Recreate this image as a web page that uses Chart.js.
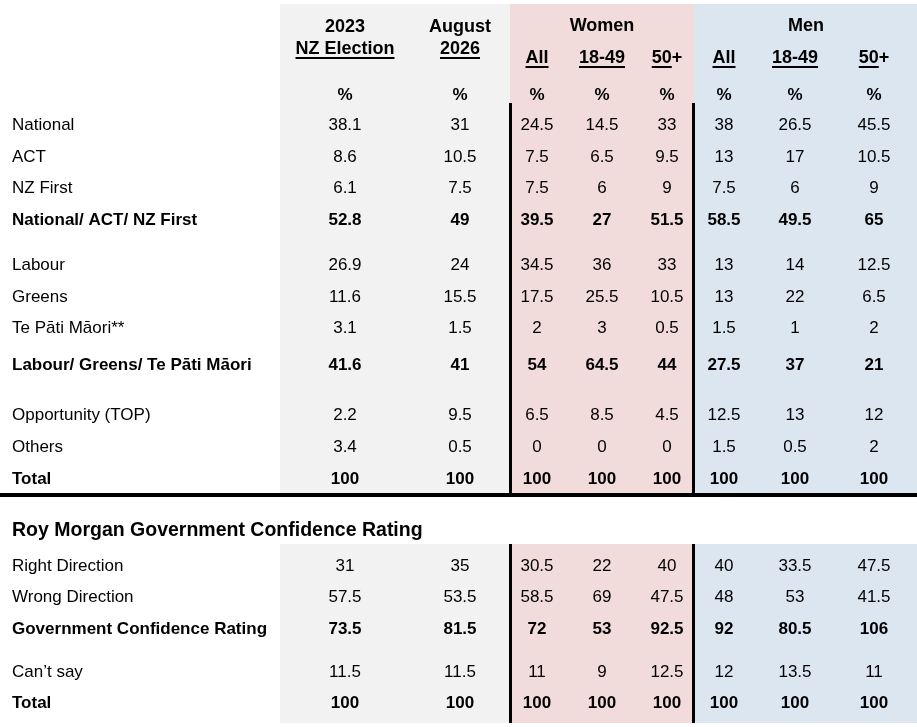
<!DOCTYPE html>
<html>
<head>
<meta charset="utf-8">
<script src="https://cdn.jsdelivr.net/npm/chart.js@4.4.1/dist/chart.umd.min.js"></script>
<style>
  html, body { margin: 0; padding: 0; background: #fff; }
  #wrap { width: 917px; height: 727px; }
</style>
</head>
<body>
<div id="wrap"><canvas id="table"></canvas></div>
<script>
// row labels
const partyLabels = ["National", "ACT", "NZ First", "National/ ACT/ NZ First", "Labour", "Greens",
  "Te Pāti Māori**", "Labour/ Greens/ Te Pāti Māori", "Opportunity (TOP)", "Others", "Total"];
const confidenceLabels = ["Right Direction", "Wrong Direction", "Government Confidence Rating", "Can’t say", "Total"];
const sectionTitle = "Roy Morgan Government Confidence Rating";

// column headings
const headTop = ["2023", "August"];
const headSub = ["NZ Election", "2026"];
const groupNames = ["Women", "Men"];
const groupCols = ["All", "18-49", "50+"];

// party vote, %
const election2023 = [38.1, 8.6, 6.1, 52.8, 26.9, 11.6, 3.1, 41.6, 2.2, 3.4, 100];
const august2026 = [31, 10.5, 7.5, 49, 24, 15.5, 1.5, 41, 9.5, 0.5, 100];
const womenAll = [24.5, 7.5, 7.5, 39.5, 34.5, 17.5, 2, 54, 6.5, 0, 100];
const women1849 = [14.5, 6.5, 6, 27, 36, 25.5, 3, 64.5, 8.5, 0, 100];
const women50 = [33, 9.5, 9, 51.5, 33, 10.5, 0.5, 44, 4.5, 0, 100];
const menAll = [38, 13, 7.5, 58.5, 13, 13, 1.5, 27.5, 12.5, 1.5, 100];
const men1849 = [26.5, 17, 6, 49.5, 14, 22, 1, 37, 13, 0.5, 100];
const men50 = [45.5, 10.5, 9, 65, 12.5, 6.5, 2, 21, 12, 2, 100];

// government confidence, %
const conf2023 = [31, 57.5, 73.5, 11.5, 100];
const confAugust = [35, 53.5, 81.5, 11.5, 100];
const confWomenAll = [30.5, 58.5, 72, 11, 100];
const confWomen1849 = [22, 69, 53, 9, 100];
const confWomen50 = [40, 47.5, 92.5, 12.5, 100];
const confMenAll = [40, 48, 92, 12, 100];
const confMen1849 = [33.5, 53, 80.5, 13.5, 100];
const confMen50 = [47.5, 41.5, 106, 11, 100];

const columns = [
  { party: election2023, conf: conf2023 },
  { party: august2026, conf: confAugust },
  { party: womenAll, conf: confWomenAll },
  { party: women1849, conf: confWomen1849 },
  { party: women50, conf: confWomen50 },
  { party: menAll, conf: confMenAll },
  { party: men1849, conf: confMen1849 },
  { party: men50, conf: confMen50 },
];

// layout (scale units = page pixels)
const colX = [345, 460, 537, 602, 667, 724, 795, 874];
const partyY = [124, 156, 187, 219, 264, 296, 327, 364, 414, 446, 478];
const confY = [565, 596, 628, 671, 702];
const partyBold = [3, 7, 10];
const confBold = [2, 4];
const labelX = 12;

const FONT = '"Liberation Sans", Arial, sans-serif';
const bands = [
  { from: 280, to: 510, color: "#f2f2f2" },
  { from: 510, to: 694, color: "#f2dcdb" },
  { from: 694, to: 917, color: "#dce6f1" },
];

function cells(values, ys, bold, x) {
  return values.map((v, i) => ({ x: x, y: ys[i], v: v, bold: bold.includes(i) }));
}

const datasets = columns.map((col, c) => ({
  label: "col" + c,
  data: cells(col.party, partyY, partyBold, colX[c]).concat(cells(col.conf, confY, confBold, colX[c])),
  pointRadius: 0,
  pointHoverRadius: 0,
  showLine: false,
}));

function text(ctx, str, x, y, size, bold, align, underline) {
  ctx.font = (bold ? "bold " : "") + size + "px " + FONT;
  ctx.textAlign = align || "center";
  ctx.textBaseline = "middle";
  ctx.fillStyle = "#000";
  ctx.fillText(str, x, y + 1);
  if (underline) {
    const u = typeof underline === "string" ? underline : str;
    const w = ctx.measureText(str).width;
    const uw = ctx.measureText(u).width;
    const left = align === "left" ? x : x - w / 2;
    ctx.fillRect(left, y + 9, uw, 2);
  }
}

const tablePlugin = {
  id: "tablePlugin",
  beforeDatasetsDraw(chart) {
    const { ctx, scales: { x, y } } = chart;
    ctx.save();
    [[4, 494], [544, 723]].forEach(([top, bottom]) => {
      bands.forEach(b => {
        ctx.fillStyle = b.color;
        ctx.fillRect(x.getPixelForValue(b.from), y.getPixelForValue(top),
          x.getPixelForValue(b.to) - x.getPixelForValue(b.from), y.getPixelForValue(bottom) - y.getPixelForValue(top));
      });
    });
    // heavy rules
    ctx.fillStyle = "#000";
    [[103, 494], [544, 723]].forEach(([top, bottom]) => {
      [509, 692].forEach(px => {
        ctx.fillRect(x.getPixelForValue(px), y.getPixelForValue(top), 3, y.getPixelForValue(bottom) - y.getPixelForValue(top));
      });
    });
    ctx.fillRect(x.getPixelForValue(0), y.getPixelForValue(493), x.getPixelForValue(917), 4);
    ctx.restore();
  },
  afterDatasetsDraw(chart) {
    const { ctx, scales: { x, y } } = chart;
    ctx.save();
    // headings
    headTop.forEach((h, i) => text(ctx, h, x.getPixelForValue(colX[i]), y.getPixelForValue(26), 18, true));
    headSub.forEach((h, i) => text(ctx, h, x.getPixelForValue(colX[i]), y.getPixelForValue(48), 18, true, "center", true));
    text(ctx, groupNames[0], x.getPixelForValue(colX[3]), y.getPixelForValue(25), 18, true);
    text(ctx, groupNames[1], x.getPixelForValue(806), y.getPixelForValue(25), 18, true);
    colX.slice(2).forEach((cx, i) => {
      const h = groupCols[i % 3];
      text(ctx, h, x.getPixelForValue(cx), y.getPixelForValue(57), 18, true, "center", h === "50+" ? "50" : true);
    });
    colX.forEach(cx => text(ctx, "%", x.getPixelForValue(cx), y.getPixelForValue(94), 17, true));
    // row labels
    partyLabels.forEach((l, i) => text(ctx, l, x.getPixelForValue(labelX), y.getPixelForValue(partyY[i]), 17, partyBold.includes(i), "left"));
    confidenceLabels.forEach((l, i) => text(ctx, l, x.getPixelForValue(labelX), y.getPixelForValue(confY[i]), 17, confBold.includes(i), "left"));
    text(ctx, sectionTitle, x.getPixelForValue(labelX), y.getPixelForValue(530), 19.5, true, "left");
    // values
    chart.data.datasets.forEach((ds, d) => {
      chart.getDatasetMeta(d).data.forEach((pt, i) => {
        const raw = ds.data[i];
        text(ctx, String(raw.v), pt.x, pt.y, 17, raw.bold);
      });
    });
    ctx.restore();
  }
};

new Chart(document.getElementById("table"), {
  type: "scatter",
  data: { datasets: datasets },
  options: {
    responsive: true,
    maintainAspectRatio: false,
    animation: false,
    layout: { padding: 0 },
    scales: {
      x: { type: "linear", min: 0, max: 917, display: false },
      y: { type: "linear", min: 0, max: 727, reverse: true, display: false },
    },
    plugins: { legend: { display: false }, tooltip: { enabled: false } },
    events: [],
  },
  plugins: [tablePlugin],
});
</script>
</body>
</html>
